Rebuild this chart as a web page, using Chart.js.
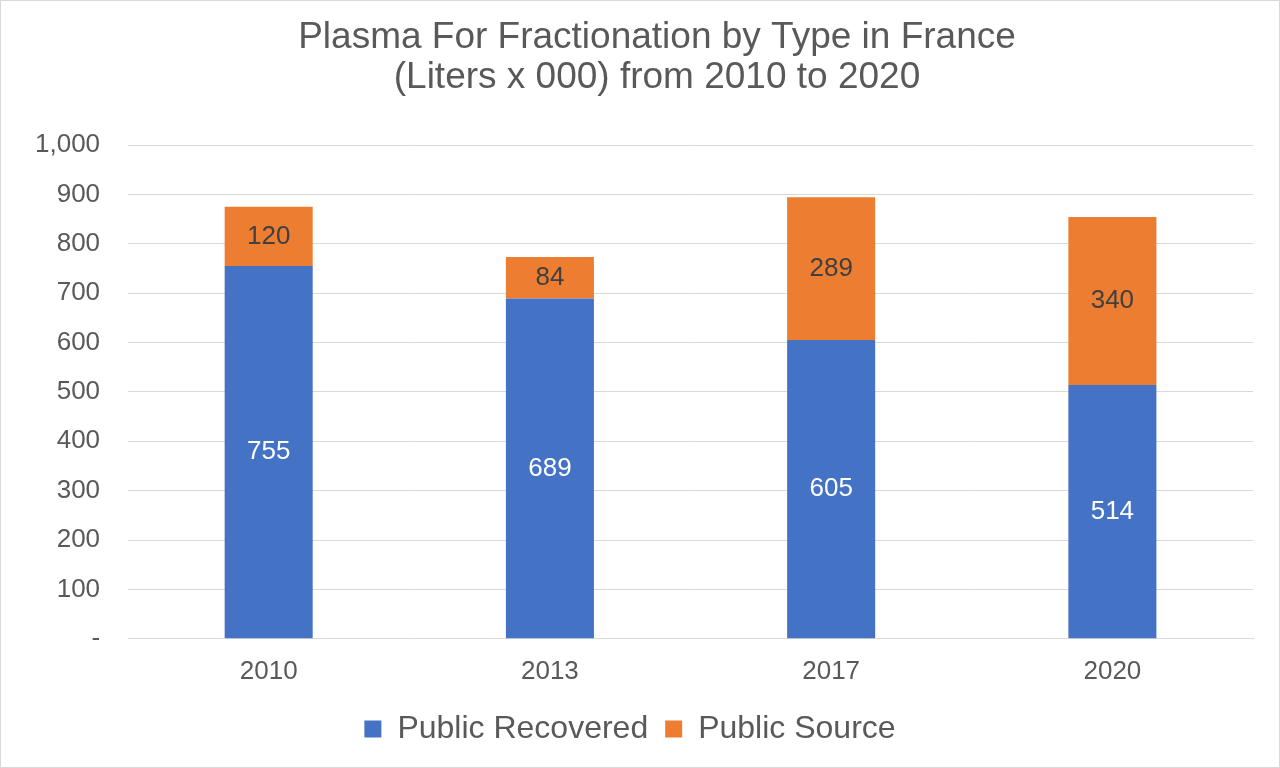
<!DOCTYPE html>
<html>
<head>
<meta charset="utf-8">
<script src="https://cdn.jsdelivr.net/npm/chart.js@4.4.0/dist/chart.umd.min.js"></script>
<style>
  html, body { margin: 0; padding: 0; background: #fff; }
  #wrap { position: absolute; left: 0; top: 0; width: 1278px; height: 766px; border: 1px solid #d9d9d9; }
</style>
</head>
<body>
<div id="wrap"><canvas id="chart"></canvas></div>
<script>
const years = ["2010", "2013", "2017", "2020"];
const publicRecovered = [755, 689, 605, 514];
const publicSource = [120, 84, 289, 340];
const titleLines = ["Plasma For Fractionation by Type in France", "(Liters x 000) from 2010 to 2020"];

const FONT = "'Liberation Sans', Arial, sans-serif";

// title drawn by hand so it can sit a bit right of the canvas centre, like the original
const chartTitle = {
  id: "chartTitle",
  afterDraw(chart) {
    const ctx = chart.ctx;
    ctx.save();
    ctx.font = "37px " + FONT;
    ctx.fillStyle = "#595959";
    ctx.textAlign = "center";
    ctx.textBaseline = "middle";
    titleLines.forEach((line, i) => ctx.fillText(line, 656, 37 + i * 40));
    ctx.restore();
  },
};

const barLabels = {
  id: "barLabels",
  afterDatasetsDraw(chart) {
    const ctx = chart.ctx;
    ctx.save();
    ctx.font = "26px " + FONT;
    ctx.textAlign = "center";
    ctx.textBaseline = "middle";
    chart.data.datasets.forEach((ds, i) => {
      const meta = chart.getDatasetMeta(i);
      meta.data.forEach((bar, j) => {
        ctx.fillStyle = i == 0 ? "#ffffff" : "#404040";
        ctx.fillText(ds.data[j], bar.x, (bar.y + bar.base) / 2);
      });
    });
    ctx.restore();
  },
};

new Chart(document.getElementById("chart"), {
  type: "bar",
  data: {
    labels: years,
    datasets: [
      { label: "Public Recovered", data: publicRecovered, backgroundColor: "#4472c4" },
      { label: "Public Source", data: publicSource, backgroundColor: "#ed7d31" },
    ],
  },
  options: {
    responsive: true,
    maintainAspectRatio: false,
    animation: { duration: 0 },
    layout: { padding: { left: 6, right: 26, top: 144, bottom: 12 } },
    datasets: { bar: { categoryPercentage: 1, barPercentage: 0.313 } },
    scales: {
      x: {
        stacked: true,
        grid: { display: false },
        border: { color: "#d9d9d9" },
        ticks: { color: "#595959", font: { size: 26, family: FONT }, padding: 9 },
      },
      y: {
        stacked: true,
        min: 0,
        max: 1000,
        grid: { color: "#d9d9d9", drawTicks: false },
        border: { display: false },
        ticks: {
          stepSize: 100,
          padding: 28,
          color: "#595959",
          font: { size: 26, family: FONT },
          callback: (v) => (v == 0 ? "-" : v.toLocaleString("en-US")),
        },
      },
    },
    plugins: {
      tooltip: { enabled: false },
      title: { display: false },
      legend: {
        position: "bottom",
        labels: {
          color: "#595959",
          font: { size: 32, family: FONT },
          boxWidth: 17,
          boxHeight: 17,
          padding: 17,
        },
      },
    },
  },
  plugins: [barLabels, chartTitle],
});
</script>
</body>
</html>
